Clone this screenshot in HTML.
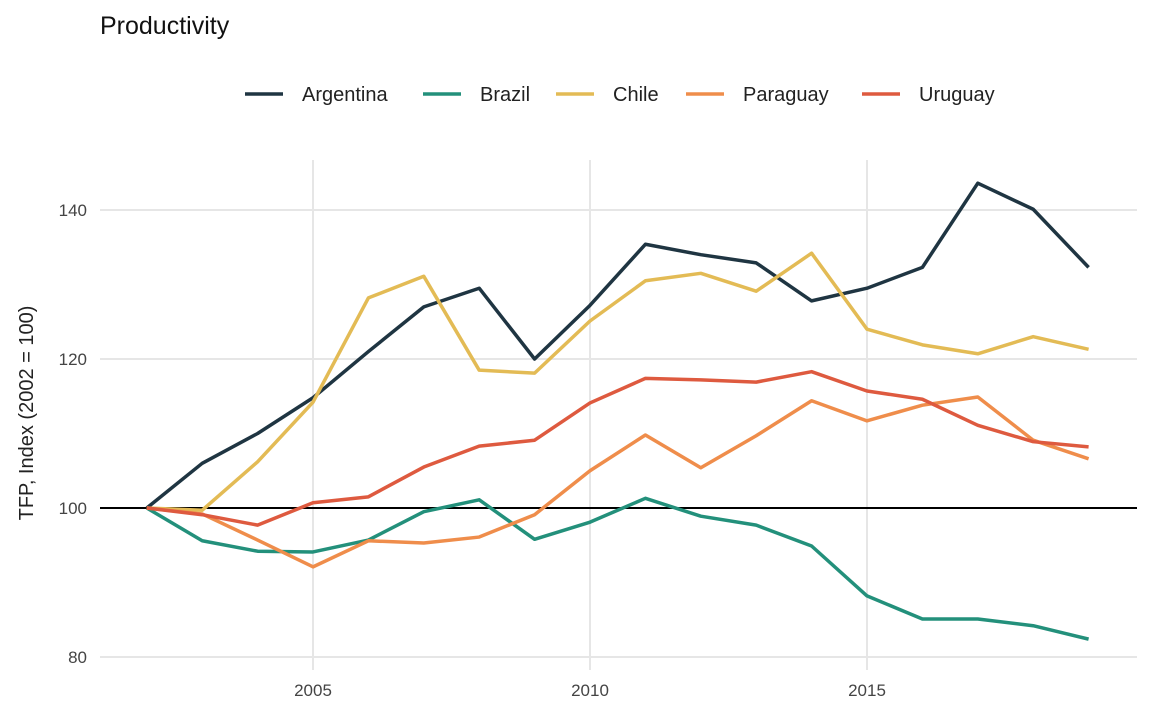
<!DOCTYPE html>
<html><head><meta charset="utf-8"><style>
body{margin:0;background:#fff;font-family:"Liberation Sans",sans-serif;}
svg text{font-family:"Liberation Sans",sans-serif;}
</style></head><body>
<svg id="chart" width="1152" height="711">
<text x="100" y="34" font-size="25" fill="#111">Productivity</text>
<g id="legend"></g>
<g id="grid"></g>
<g id="series"></g>
<text transform="translate(33,413) rotate(-90)" text-anchor="middle" font-size="20" fill="#222">TFP, Index (2002 = 100)</text>
</svg>
<script>
const years=[2002,2003,2004,2005,2006,2007,2008,2009,2010,2011,2012,2013,2014,2015,2016,2017,2018,2019];
const seriesNames=["Argentina","Brazil","Chile","Paraguay","Uruguay"];
const argentina=[100,106,110,114.8,121,127,129.5,120,127.2,135.4,134,132.9,127.8,129.5,132.3,143.6,140.1,132.3];
const brazil=[100,95.6,94.2,94.1,95.7,99.5,101.1,95.8,98.1,101.3,98.9,97.7,94.9,88.2,85.1,85.1,84.2,82.4];
const chile=[100,99.7,106.2,114.2,128.2,131.1,118.5,118.1,125.1,130.5,131.5,129.1,134.2,124,121.9,120.7,123,121.3];
const paraguay=[100,99.2,95.7,92.1,95.6,95.3,96.1,99.1,105,109.8,105.4,109.7,114.4,111.7,113.8,114.9,109.1,106.6];
const uruguay=[100,99.1,97.7,100.7,101.5,105.5,108.3,109.1,114.1,117.4,117.2,116.9,118.3,115.7,114.6,111.1,108.9,108.2];
const xTicks=[2005,2010,2015];
const yTicks=[80,100,120,140];
const colors=["#1f3542","#23907b","#e3bb55","#ef8d4b","#de5a3f"];
const allSeries=[argentina,brazil,chile,paraguay,uruguay];
const ns="http://www.w3.org/2000/svg";
const x=v=>313+(v-2005)*55.4;
const y=v=>508-(v-100)*7.45;
const L=100,R=1137,T=160,B=670;
const grid=document.getElementById('grid');
function mk(tag,attrs,parent){const e=document.createElementNS(ns,tag);for(const k in attrs)e.setAttribute(k,attrs[k]);parent.appendChild(e);return e;}
xTicks.forEach(t=>{
 const l=mk('line',{x1:x(t),x2:x(t),y1:T,y2:B,stroke:'#e6e6e6','stroke-width':2},grid);
 
 
 const tx=mk('text',{x:x(t),y:696,'text-anchor':'middle','font-size':17,fill:'#444'},grid);tx.textContent=t;
 
 
});
yTicks.forEach(t=>{
 const l=mk('line',{x1:L,x2:R,y1:y(t),y2:y(t),stroke:'#e6e6e6','stroke-width':2},grid);
 
 
 const tx=mk('text',{x:87,y:y(t)+6,'text-anchor':'end','font-size':17,fill:'#444'},grid);tx.textContent=t;
 
 
});
const ref=mk('line',{x1:L,x2:R,y1:y(100),y2:y(100),stroke:'#000','stroke-width':2},grid);


const sg=document.getElementById('series');
allSeries.forEach((s,i)=>{
 const p=mk('polyline',{points:s.map((v,j)=>x(years[j])+','+y(v)).join(' '),fill:'none',stroke:colors[i],'stroke-width':3.5,'stroke-linejoin':'round'},sg);
 
 
});
const lg=document.getElementById('legend');
const lx=[245,423,556,686,862];
seriesNames.forEach((n,i)=>{
 const l=mk('line',{x1:lx[i],x2:lx[i]+38,y1:94,y2:94,stroke:colors[i],'stroke-width':3.5},lg);
 
 
 const t=mk('text',{x:lx[i]+57,y:101,'font-size':20,fill:'#222'},lg);t.textContent=n;
 
 
});
</script>
</body></html>
